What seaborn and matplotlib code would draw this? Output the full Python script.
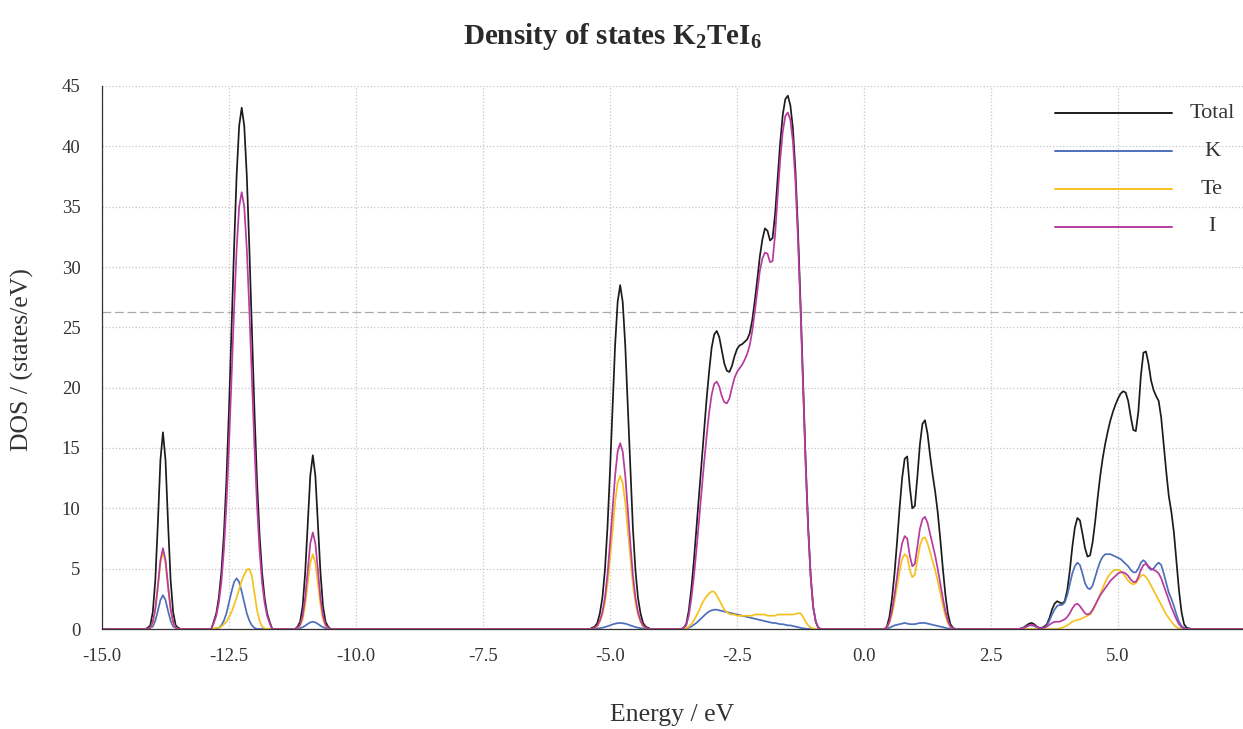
import numpy as np
import pandas as pd
import matplotlib
matplotlib.use("Agg")
import matplotlib.pyplot as plt
from matplotlib.lines import Line2D
from matplotlib.ticker import MultipleLocator
import seaborn as sns

# ---------------- data ----------------
series_names = ["Total", "K", "Te", "I"]
series_colors = ["#1c1c1c", "#4d6fbb", "#f4c21f", "#b83ba0"]

x_ticks = [-15.0, -12.5, -10.0, -7.5, -5.0, -2.5, 0.0, 2.5, 5.0]
x_tick_labels = ["-15.0", "-12.5", "-10.0", "-7.5", "-5.0", "-2.5", "0.0", "2.5", "5.0"]
y_ticks = [0, 5, 10, 15, 20, 25, 30, 35, 40, 45]

energy_step = 0.05
# first energy of each sampled band region (eV)
region_starts = [-14.15, -12.85, -11.20, -5.40, -3.60, 0.40, 3.00]

total_A = [0.0, 0.1, 0.3, 1.4, 4.1, 8.8, 14.0, 16.3, 14.0, 8.8, 4.1, 1.4, 0.3, 0.1, 0.0]
k_A     = [0.0, 0.0, 0.1, 0.2, 0.7, 1.5, 2.4, 2.8, 2.4, 1.5, 0.7, 0.2, 0.1, 0.0, 0.0]
te_A    = [0.0, 0.0, 0.1, 0.5, 1.6, 3.4, 5.5, 6.4, 5.5, 3.4, 1.6, 0.5, 0.1, 0.0, 0.0]
i_A     = [0.0, 0.0, 0.1, 0.6, 1.7, 3.6, 5.7, 6.7, 5.7, 3.6, 1.7, 0.6, 0.1, 0.0, 0.0]

total_B = [0.0, 0.6, 1.3, 2.6, 4.7, 7.9, 12.4, 18.2, 24.8, 31.6, 37.6, 41.7, 43.2,
           41.7, 37.6, 31.6, 24.8, 18.2, 12.4, 7.9, 4.7, 2.6, 1.3, 0.6, 0.0]
k_B     = [0.0, 0.0, 0.0, 0.1, 0.3, 0.7, 1.3, 2.2, 3.1, 3.9, 4.2, 3.9, 3.1,
           2.2, 1.3, 0.7, 0.3, 0.1, 0.0, 0.0, 0.0, 0.0, 0.0, 0.0, 0.0]
te_B    = [0.0, 0.05, 0.1, 0.1, 0.2, 0.4, 0.6, 1.0, 1.4, 2.0, 2.6, 3.3, 4.0,
           4.5, 4.9, 5.0, 4.4, 3.0, 1.6, 0.7, 0.2, 0.05, 0.0, 0.0, 0.0]
i_B     = [0.0, 0.5, 1.1, 2.2, 3.9, 6.6, 10.4, 15.2, 20.8, 26.5, 31.5, 35.0, 36.2,
           35.0, 31.5, 26.5, 20.8, 15.2, 10.4, 6.6, 3.9, 2.2, 1.1, 0.5, 0.0]

total_C = [0.0, 0.2, 0.6, 1.9, 4.7, 8.7, 12.7, 14.4, 12.7, 8.7, 4.7, 1.9, 0.6, 0.2, 0.0]
k_C     = [0.0, 0.02, 0.07, 0.15, 0.27, 0.42, 0.55, 0.6, 0.55, 0.42, 0.27, 0.15, 0.07, 0.02, 0.0]
te_C    = [0.0, 0.07, 0.27, 0.8, 2.0, 3.8, 5.5, 6.2, 5.5, 3.8, 2.0, 0.8, 0.27, 0.07, 0.0]
i_C     = [0.0, 0.1, 0.35, 1.1, 2.6, 4.9, 7.1, 8.0, 7.1, 4.9, 2.6, 1.1, 0.35, 0.1, 0.0]

total_D = [0.0, 0.1, 0.2, 0.5, 1.3, 2.6, 4.9, 8.4, 13.1, 18.4, 23.5, 27.1, 28.5,
           27.1, 23.5, 18.4, 13.1, 8.4, 4.9, 2.6, 1.3, 0.5, 0.2, 0.1, 0.0]
k_D     = [0.0, 0.0, 0.02, 0.04, 0.07, 0.11, 0.16, 0.23, 0.3, 0.38, 0.44, 0.48, 0.5,
           0.48, 0.44, 0.38, 0.3, 0.23, 0.16, 0.11, 0.07, 0.04, 0.02, 0.0, 0.0]
te_D    = [0.0, 0.0, 0.1, 0.2, 0.6, 1.2, 2.2, 3.7, 5.8, 8.2, 10.5, 12.1, 12.7,
           12.1, 10.5, 8.2, 5.8, 3.7, 2.2, 1.2, 0.6, 0.2, 0.1, 0.0, 0.0]
i_D     = [0.0, 0.0, 0.1, 0.3, 0.7, 1.4, 2.6, 4.5, 7.1, 9.9, 12.7, 14.7, 15.4,
           14.7, 12.7, 9.9, 7.1, 4.5, 2.6, 1.4, 0.7, 0.3, 0.1, 0.0, 0.0]

total_E = [0.0, 0.1, 0.4, 1.5, 3.3, 5.6, 8.3, 11.0, 13.8, 16.5, 19.0, 21.3, 23.3, 24.4,
           24.7, 24.2, 23.1, 22.0, 21.4, 21.3, 21.8, 22.6, 23.2, 23.5, 23.6, 23.8, 24.0,
           24.5, 25.6, 27.2, 29.0, 30.9, 32.3, 33.2, 33.0, 32.2, 32.4, 34.4, 37.4, 40.3,
           42.6, 43.9, 44.2, 43.4, 41.5, 38.0, 33.0, 27.0, 20.5, 14.0, 8.5, 4.4, 1.8,
           0.6, 0.1, 0.0]
k_E     = [0.0, 0.0, 0.05, 0.1, 0.2, 0.35, 0.5, 0.7, 0.9, 1.1, 1.3, 1.45, 1.55, 1.6,
           1.6, 1.55, 1.5, 1.45, 1.4, 1.35, 1.3, 1.25, 1.2, 1.15, 1.1, 1.05, 1.0, 0.95,
           0.9, 0.85, 0.8, 0.75, 0.7, 0.65, 0.6, 0.55, 0.5, 0.5, 0.45, 0.4, 0.4, 0.35,
           0.3, 0.3, 0.25, 0.2, 0.15, 0.1, 0.05, 0.03, 0.01, 0.0, 0.0, 0.0, 0.0, 0.0]
te_E    = [0.0, 0.0, 0.05, 0.2, 0.4, 0.7, 1.1, 1.5, 2.0, 2.4, 2.7, 2.95, 3.1, 3.1,
           2.8, 2.4, 2.0, 1.6, 1.4, 1.25, 1.2, 1.2, 1.1, 1.1, 1.1, 1.1, 1.1, 1.1,
           1.1, 1.2, 1.2, 1.2, 1.2, 1.2, 1.1, 1.1, 1.1, 1.1, 1.2, 1.2, 1.2, 1.2,
           1.2, 1.2, 1.2, 1.25, 1.3, 1.3, 1.0, 0.6, 0.3, 0.12, 0.04, 0.0, 0.0, 0.0]
i_E     = [0.0, 0.1, 0.3, 1.1, 2.5, 4.3, 6.5, 8.9, 11.3, 13.7, 15.9, 17.9, 19.4, 20.3,
           20.5, 20.1, 19.3, 18.8, 18.7, 19.1, 20.0, 20.8, 21.3, 21.6, 21.9, 22.3, 22.8,
           23.5, 24.7, 26.3, 28.0, 29.7, 30.7, 31.2, 31.1, 30.4, 30.5, 32.7, 35.9, 38.9,
           41.2, 42.5, 42.8, 42.2, 40.4, 37.1, 32.3, 26.5, 20.1, 13.7, 8.3, 4.3, 1.8,
           0.6, 0.1, 0.0]

total_F = [0.0, 0.2, 1.0, 2.5, 4.6, 7.2, 10.0, 12.5, 14.1, 14.3, 11.8, 10.0, 10.2, 12.6,
           15.3, 17.0, 17.3, 16.2, 14.4, 12.8, 11.4, 9.7, 7.5, 5.1, 2.9, 1.3, 0.4, 0.1, 0.0]
k_F     = [0.0, 0.05, 0.1, 0.2, 0.3, 0.35, 0.4, 0.45, 0.5, 0.45, 0.4, 0.4, 0.4, 0.45,
           0.5, 0.5, 0.5, 0.45, 0.4, 0.35, 0.3, 0.25, 0.2, 0.15, 0.1, 0.05, 0.02, 0.0, 0.0]
te_F    = [0.0, 0.1, 0.5, 1.2, 2.3, 3.5, 4.8, 5.8, 6.2, 6.0, 4.9, 4.3, 4.5, 5.7,
           6.9, 7.5, 7.6, 7.1, 6.4, 5.6, 4.9, 4.0, 3.0, 2.0, 1.1, 0.5, 0.15, 0.05, 0.0]
i_F     = [0.0, 0.1, 0.6, 1.5, 2.8, 4.3, 5.9, 7.1, 7.7, 7.5, 6.1, 5.2, 5.4, 6.8,
           8.3, 9.1, 9.3, 8.8, 7.9, 7.0, 6.1, 5.0, 3.8, 2.6, 1.5, 0.7, 0.2, 0.05, 0.0]

total_G = [0.0, 0.0, 0.05, 0.15, 0.3, 0.45, 0.5, 0.4, 0.2, 0.1, 0.1, 0.2, 0.4, 0.9,
           1.6, 2.1, 2.3, 2.2, 2.1, 2.3, 3.2, 4.8, 6.8, 8.4, 9.2, 9.0, 7.9, 6.7, 6.0,
           6.1, 7.2, 8.9, 10.9, 12.7, 14.2, 15.4, 16.4, 17.3, 18.0, 18.6, 19.1, 19.5,
           19.7, 19.6, 18.9, 17.6, 16.5, 16.4, 18.0, 21.0, 22.9, 23.0, 22.0, 20.6, 19.8,
           19.3, 18.9, 17.5, 15.2, 13.0, 11.0, 9.7, 8.0, 5.6, 3.2, 1.4, 0.4, 0.1, 0.05,
           0.0, 0.0]
k_G     = [0.0, 0.0, 0.05, 0.1, 0.2, 0.3, 0.3, 0.25, 0.15, 0.05, 0.05, 0.1, 0.3, 0.7,
           1.2, 1.6, 1.9, 2.0, 2.0, 2.2, 2.8, 3.7, 4.6, 5.2, 5.5, 5.3, 4.6, 3.8, 3.4,
           3.3, 3.6, 4.3, 5.0, 5.6, 6.0, 6.2, 6.2, 6.2, 6.1, 6.0, 5.9, 5.8, 5.6, 5.4,
           5.2, 4.9, 4.7, 4.7, 5.0, 5.5, 5.7, 5.5, 5.1, 4.9, 5.0, 5.3, 5.5, 5.3, 4.6,
           3.8, 3.0, 2.5, 1.9, 1.2, 0.6, 0.25, 0.1, 0.0, 0.0, 0.0, 0.0]
te_G    = [0.0, 0.0, 0.0, 0.0, 0.0, 0.0, 0.0, 0.0, 0.0, 0.0, 0.0, 0.0, 0.0, 0.0,
           0.0, 0.0, 0.0, 0.05, 0.1, 0.2, 0.3, 0.45, 0.6, 0.7, 0.75, 0.8, 0.9, 1.0,
           1.1, 1.2, 1.5, 1.9, 2.4, 2.9, 3.4, 3.9, 4.3, 4.6, 4.8, 4.9, 4.9, 4.8, 4.6,
           4.3, 4.0, 3.8, 3.7, 3.8, 4.1, 4.4, 4.5, 4.3, 4.0, 3.6, 3.2, 2.8, 2.4, 2.0,
           1.6, 1.2, 0.9, 0.6, 0.35, 0.15, 0.05, 0.0, 0.0, 0.0, 0.0, 0.0, 0.0]
i_G     = [0.0, 0.0, 0.05, 0.1, 0.2, 0.3, 0.35, 0.3, 0.15, 0.05, 0.05, 0.1, 0.2, 0.35,
           0.5, 0.6, 0.6, 0.6, 0.7, 0.8, 1.0, 1.3, 1.7, 2.0, 2.1, 1.9, 1.6, 1.3, 1.2,
           1.3, 1.6, 2.0, 2.4, 2.8, 3.1, 3.4, 3.7, 4.0, 4.2, 4.4, 4.6, 4.7, 4.7, 4.6,
           4.4, 4.1, 3.9, 3.9, 4.3, 4.9, 5.3, 5.4, 5.2, 5.0, 4.9, 4.8, 4.6, 4.2, 3.6,
           3.0, 2.4, 1.8, 1.3, 0.8, 0.4, 0.15, 0.05, 0.0, 0.0, 0.0, 0.0]

x_min, x_max = -15.0, 7.46
artifact_level = 26.3  # faint dashed scan line in the reference

# ---------------- assemble long-form table ----------------
regions = [
    (total_A, k_A, te_A, i_A), (total_B, k_B, te_B, i_B), (total_C, k_C, te_C, i_C),
    (total_D, k_D, te_D, i_D), (total_E, k_E, te_E, i_E), (total_F, k_F, te_F, i_F),
    (total_G, k_G, te_G, i_G),
]
energy_parts = [[x_min]]
value_parts = {name: [[0.0]] for name in series_names}
for start, vals in zip(region_starts, regions):
    n = min(len(v) for v in vals)
    energy_parts.append(list(start + energy_step * np.arange(n)))
    for name, v in zip(series_names, vals):
        value_parts[name].append(list(v[:n]))
energy_parts.append([x_max])
for name in series_names:
    value_parts[name].append([0.0])
energy = np.concatenate(energy_parts)

rows = []
for name in series_names:
    vals = np.concatenate(value_parts[name])
    rows.append(pd.DataFrame({"Energy": energy, "DOS": vals, "Series": name}))
df = pd.concat(rows, ignore_index=True)

# ---------------- plotting ----------------
sns.set_style("white")
plt.rcParams["font.family"] = ["Liberation Serif", "DejaVu Serif"]
plt.rcParams["mathtext.fontset"] = "custom"
plt.rcParams["mathtext.rm"] = "Liberation Serif:bold"
plt.rcParams["mathtext.it"] = "Liberation Serif:bold"
plt.rcParams["mathtext.bf"] = "Liberation Serif:bold"

W, H = 1243, 729
fig = plt.figure(figsize=(W / 100, H / 100), dpi=100)
ax = fig.add_axes([102 / W, 1 - 629 / H, (W - 102) / W, (629 - 86) / H])

palette = dict(zip(series_names, series_colors))
sns.lineplot(data=df, x="Energy", y="DOS", hue="Series", hue_order=series_names,
             palette=palette, sort=False, estimator=None, linewidth=1.25,
             legend=False, ax=ax)

ax.axhline(artifact_level, color="#8c8c8c", lw=0.9, ls=(0, (7, 3)), alpha=0.75, zorder=0.5)

ax.set_xlim(x_min, x_max)
ax.set_ylim(0, 45)
ax.set_xticks(x_ticks)
ax.set_xticklabels(x_tick_labels)
ax.set_yticks(y_ticks)
ax.xaxis.set_minor_locator(MultipleLocator(0.5))
ax.yaxis.set_minor_locator(MultipleLocator(1))
ax.tick_params(axis="both", which="major", direction="out", length=4.5, width=0.8,
               labelsize=13.5, color="#444444", labelcolor="#333333")
ax.tick_params(axis="both", which="minor", direction="out", length=2.5, width=0.6,
               color="#777777")
ax.tick_params(axis="x", which="major", pad=9)
ax.tick_params(axis="y", which="major", pad=11)
ax.grid(True, which="major", ls=":", color="#c6c6c6", lw=0.9)
for side in ["top", "right"]:
    ax.spines[side].set_visible(False)
for side in ["left", "bottom"]:
    ax.spines[side].set_color("#333333")
    ax.spines[side].set_linewidth(0.9)

ax.set_xlabel("Energy / eV", fontsize=18.5, color="#333333")
ax.xaxis.set_label_coords((672 - 102) / 1141, (629 - 715) / 543)
ax.xaxis.label.set_va("center")
ax.set_ylabel("DOS / (states/eV)", fontsize=18.5, color="#333333")
ax.yaxis.set_label_coords((22 - 102) / 1141, (629 - 360) / 543)
ax.yaxis.label.set_va("center")

fig.text(612 / W, 1 - 36 / H, r"Density of states K$_2$TeI$_6$", fontsize=21,
         fontweight="bold", ha="center", va="center", color="#2a2a2a")

# legend: long line samples with centred labels, as in the reference
legend_rows = [113, 151, 189, 227]
for name, color, yrow in zip(series_names, series_colors, legend_rows):
    yf = 1 - yrow / H
    fig.add_artist(Line2D([1055 / W, 1172 / W], [yf, yf], transform=fig.transFigure,
                          color=color, lw=1.4))
    fig.text(1212 / W, yf, name, fontsize=16, ha="center", va="center", color="#333333")

fig.savefig("out.png", dpi=100)
